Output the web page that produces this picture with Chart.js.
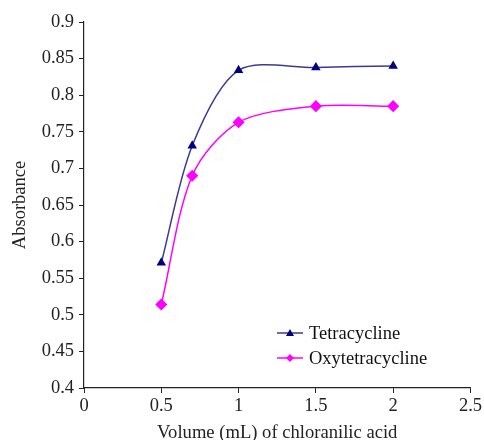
<!DOCTYPE html>
<html>
<head>
<meta charset="utf-8">
<script src="https://cdn.jsdelivr.net/npm/chart.js@4/dist/chart.umd.min.js"></script>
<style>
html,body{margin:0;padding:0;background:#fff;overflow:hidden;}
#wrap{position:relative;width:484px;height:450px;}
</style>
</head>
<body>
<div id="wrap"><canvas id="c"></canvas></div>
<script>
const volumes = [0.5, 0.7, 1.0, 1.5, 2.0];
const tetracycline = [0.571, 0.731, 0.834, 0.838, 0.840];
const oxytetracycline = [0.514, 0.690, 0.763, 0.785, 0.785];
const seriesNames = ['Tetracycline', 'Oxytetracycline'];
const xTitle = 'Volume (mL) of chloranilic acid';
const yTitle = 'Absorbance';

const serif = "'Liberation Serif', 'Times New Roman', serif";

const legendPlugin = {
  id: 'insideLegend',
  afterDraw(chart) {
    const ctx = chart.ctx;
    const items = [
      {label: seriesNames[0], ds: chart.data.datasets[0]},
      {label: seriesNames[1], ds: chart.data.datasets[1]}
    ];
    const x0 = 277, y0 = 333, gap = 25;
    ctx.save();
    ctx.font = "18.5px " + serif;
    ctx.textBaseline = 'middle';
    items.forEach((it, i) => {
      const y = y0 + i * gap;
      ctx.strokeStyle = it.ds.borderColor;
      ctx.lineWidth = 1.5;
      ctx.beginPath(); ctx.moveTo(x0, y); ctx.lineTo(x0 + 26, y); ctx.stroke();
      ctx.fillStyle = it.ds.pointBackgroundColor;
      const cx = x0 + 13;
      ctx.beginPath();
      if (i === 0) {
        ctx.moveTo(cx, y - 4); ctx.lineTo(cx + 4, y + 3); ctx.lineTo(cx - 4, y + 3);
      } else {
        ctx.moveTo(cx, y - 4); ctx.lineTo(cx + 4, y); ctx.lineTo(cx, y + 4); ctx.lineTo(cx - 4, y);
      }
      ctx.closePath(); ctx.fill();
      ctx.fillStyle = '#111';
      ctx.fillText(it.label, x0 + 32, y + 1);
    });
    ctx.restore();
  }
};

new Chart(document.getElementById('c'), {
  type: 'line',
  data: {
    datasets: [
      {
        label: seriesNames[0],
        data: volumes.map((v, i) => ({x: v, y: tetracycline[i]})),
        borderColor: '#3a3a96',
        backgroundColor: '#000080',
        pointBackgroundColor: '#000080',
        pointBorderColor: '#000080',
        pointStyle: 'triangle',
        pointRadius: 4,
        borderWidth: 1.5,
        tension: 0.3
      },
      {
        label: seriesNames[1],
        data: volumes.map((v, i) => ({x: v, y: oxytetracycline[i]})),
        borderColor: '#ff00ff',
        backgroundColor: '#ff00ff',
        pointBackgroundColor: '#ff00ff',
        pointBorderColor: '#ff00ff',
        pointStyle: 'rectRot',
        pointRadius: 5,
        borderWidth: 1.5,
        tension: 0.3
      }
    ]
  },
  options: {
    responsive: true,
    maintainAspectRatio: false,
    animation: false,
    layout: {padding: {top: 22, right: 11, left: 0, bottom: 0}},
    plugins: {legend: {display: false}, tooltip: {enabled: false}},
    scales: {
      x: {
        type: 'linear', min: 0, max: 2.5,
        afterFit: s => { s.height = 62; },
        ticks: {stepSize: 0.5, color: '#222', font: {family: serif, size: 18.5}, padding: 2,
          callback: v => String(v)},
        grid: {drawOnChartArea: false, drawTicks: true, tickLength: 5, color: '#222'},
        border: {color: '#222', width: 1.2},
        title: {display: true, text: xTitle, color: '#222', font: {family: serif, size: 18.6}, padding: {top: 0, bottom: 6}}
      },
      y: {
        type: 'linear', min: 0.4, max: 0.9,
        afterFit: s => { s.width = 84; },
        ticks: {stepSize: 0.05, color: '#222', font: {family: serif, size: 18.5}, padding: 5,
          callback: v => String(Math.round(v * 100) / 100)},
        grid: {drawOnChartArea: false, drawTicks: true, tickLength: 5, color: '#222'},
        border: {color: '#222', width: 1.2},
        title: {display: true, text: yTitle, color: '#222', font: {family: serif, size: 18.5}, padding: {top: 9, bottom: 0}}
      }
    }
  },
  plugins: [legendPlugin]
});
</script>
</body>
</html>
